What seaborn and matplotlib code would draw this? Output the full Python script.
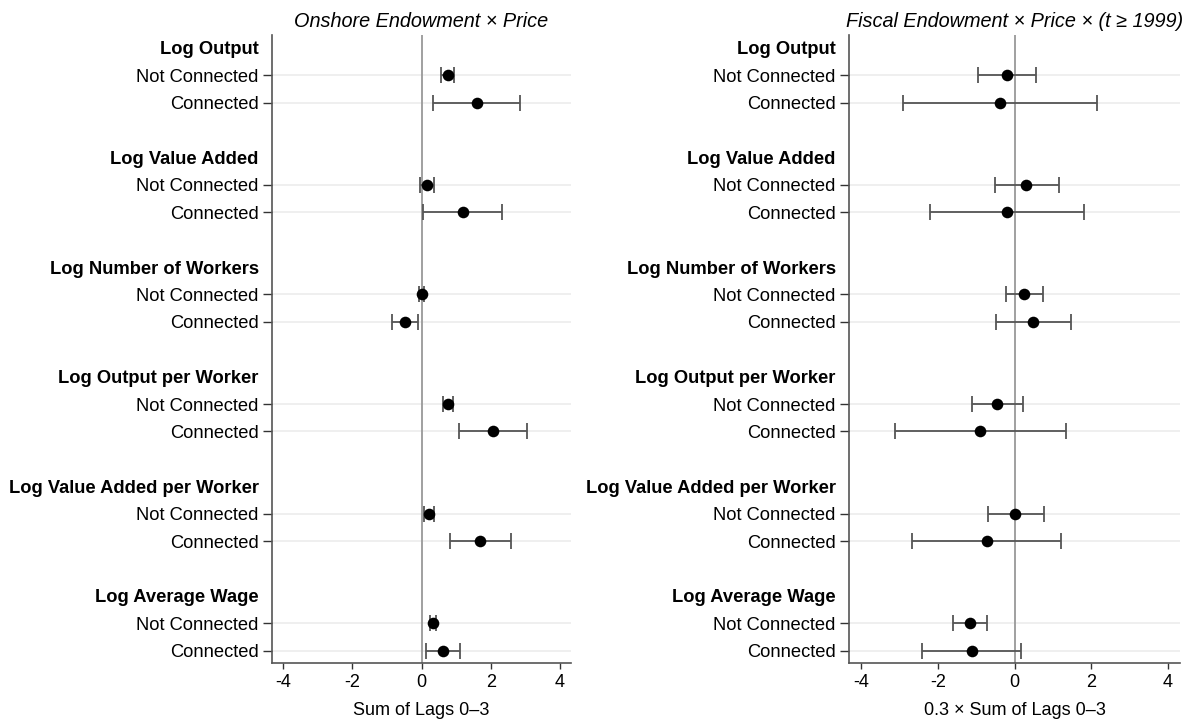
import numpy as np
import pandas as pd
import matplotlib
matplotlib.use('Agg')
import matplotlib.pyplot as plt
import seaborn as sns

outcomes = ['Log Output', 'Log Value Added', 'Log Number of Workers',
            'Log Output per Worker', 'Log Value Added per Worker', 'Log Average Wage']
groups = ['Not Connected', 'Connected']

# left panel: Onshore Endowment x Price (NC, C per outcome)
onshore_coef = [0.76, 1.59, 0.16, 1.19, 0.00, -0.47, 0.76, 2.06, 0.21, 1.69, 0.34, 0.62]
onshore_lo = [0.57, 0.33, -0.03, 0.04, -0.06, -0.85, 0.61, 1.09, 0.06, 0.81, 0.26, 0.14]
onshore_hi = [0.93, 2.86, 0.35, 2.34, 0.06, -0.09, 0.90, 3.04, 0.35, 2.60, 0.42, 1.12]

# right panel: Fiscal Endowment x Price x (t >= 1999)
fiscal_coef = [-0.20, -0.39, 0.31, -0.20, 0.25, 0.49, -0.45, -0.89, 0.02, -0.73, -1.17, -1.12]
fiscal_lo = [-0.95, -2.92, -0.51, -2.21, -0.23, -0.48, -1.10, -3.12, -0.70, -2.67, -1.61, -2.41]
fiscal_hi = [0.56, 2.16, 1.15, 1.81, 0.75, 1.48, 0.22, 1.35, 0.76, 1.22, -0.71, 0.18]

xticks = [-4, -2, 0, 2, 4]

sns.set_theme(style='white')
plt.rcParams['font.family'] = ['Liberation Sans', 'DejaVu Sans']
plt.rcParams['text.color'] = 'black'
plt.rcParams['xtick.color'] = 'black'
plt.rcParams['ytick.color'] = 'black'
plt.rcParams['axes.labelcolor'] = 'black'

# row layout: header, not connected, connected, blank
rows = []
for i, o in enumerate(outcomes):
    for j, g in enumerate(groups):
        rows.append({'outcome': o, 'group': g, 'pos': 4 * i + 1 + j})
df = pd.DataFrame(rows)
df['onshore'] = onshore_coef
df['onshore_lo'] = onshore_lo
df['onshore_hi'] = onshore_hi
df['fiscal'] = fiscal_coef
df['fiscal_lo'] = fiscal_lo
df['fiscal_hi'] = fiscal_hi

header_pos = [4 * i for i in range(len(outcomes))]

fig = plt.figure(figsize=(11.95, 7.24), dpi=100)
ax1 = fig.add_axes([272 / 1195, 1 - 663 / 724, 299 / 1195, 628 / 724])
ax2 = fig.add_axes([849 / 1195, 1 - 663 / 724, 331 / 1195, 628 / 724])

panels = [(ax1, 'onshore', 'Onshore Endowment × Price', 'Sum of Lags 0–3'),
          (ax2, 'fiscal', 'Fiscal Endowment × Price × (t ≥ 1999)', '0.3 × Sum of Lags 0–3')]

for ax, col, title, xlab in panels:
    for p in df['pos']:
        ax.axhline(p, color='#ececec', lw=1.2, zorder=0)
    ax.axvline(0, color='#999999', lw=1.3, zorder=1)
    ax.errorbar(df[col], df['pos'],
                xerr=[df[col] - df[col + '_lo'], df[col + '_hi'] - df[col]],
                fmt='none', ecolor='#555555', elinewidth=1.3, capsize=5.5, capthick=1.3, zorder=2)
    sns.scatterplot(data=df, x=col, y='pos', ax=ax, color='black', s=70,
                    edgecolor='black', linewidth=0, zorder=3)
    ax.set_xlim(-4.32, 4.32)
    ax.set_ylim(22.45, -0.47)
    ax.set_xticks(xticks)
    ax.set_xticklabels([str(t) for t in xticks], fontsize=13)
    ax.set_yticks(df['pos'])
    ax.set_yticklabels(df['group'], fontsize=13.2)
    ax.set_yticks(header_pos, minor=True)
    ax.set_yticklabels(outcomes, minor=True, fontsize=13.2, fontweight='bold')
    ax.tick_params(axis='y', which='major', length=6.5, width=1, color='#333333', pad=3, left=True)
    ax.tick_params(axis='y', which='minor', length=0, pad=9.5, left=True)
    ax.tick_params(axis='x', length=4, width=1, color='#333333', pad=4, bottom=True)
    ax.set_xlabel(xlab, fontsize=13, labelpad=8)
    ax.set_ylabel('')
    ax.set_title(title, fontsize=14.3, style='italic', pad=6)
    for s in ['top', 'right']:
        ax.spines[s].set_visible(False)
    for s in ['left', 'bottom']:
        ax.spines[s].set_color('#555555')
        ax.spines[s].set_linewidth(1.2)

fig.savefig('out.png', dpi=100)
